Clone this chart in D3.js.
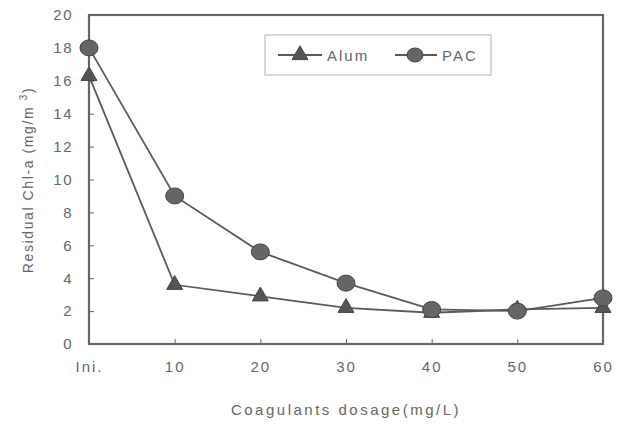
<!DOCTYPE html>
<html>
<head>
<meta charset="utf-8">
<script src="https://cdn.jsdelivr.net/npm/d3@7"></script>
<style>
  body { margin: 0; background: #fff; }
  text { font-family: "Liberation Sans", Arial, sans-serif; fill: #666; }
</style>
</head>
<body>
<svg id="canvas"></svg>
<script>
var categories = ["Ini.", "10", "20", "30", "40", "50", "60"];
var alum = [16.3, 3.6, 2.9, 2.2, 1.9, 2.1, 2.2];
var pac = [18.0, 9.0, 5.6, 3.7, 2.1, 2.0, 2.8];
var yTicks = [0, 2, 4, 6, 8, 10, 12, 14, 16, 18, 20];

var width = 626, height = 424;
var margin = {top: 15, right: 23, bottom: 80, left: 89};

var svg = d3.select("#canvas").attr("width", width).attr("height", height);

var x = d3.scalePoint().domain(categories).range([margin.left, width - margin.right]).padding(0);
var y = d3.scaleLinear().domain([0, 20]).range([height - margin.bottom, margin.top]);

var frameColor = "#666";
var lineColor = "#5a5a5a";

// frame
svg.append("rect")
  .attr("x", x.range()[0]).attr("y", y(20))
  .attr("width", x.range()[1] - x.range()[0])
  .attr("height", y(0) - y(20))
  .attr("fill", "none").attr("stroke", frameColor).attr("stroke-width", 2.2);

// y axis
var yAxis = d3.axisLeft(y).tickValues(yTicks).tickSize(-5).tickPadding(16);
var gy = svg.append("g").attr("transform", "translate(" + margin.left + ",0)").call(yAxis);
gy.select(".domain").remove();
gy.selectAll(".tick line").attr("stroke", frameColor).attr("stroke-width", 1);
gy.selectAll(".tick text").style("font-size", "15px").style("letter-spacing", "1.5px").attr("fill", "#666");

// x axis
var xAxis = d3.axisBottom(x).tickSize(-5).tickPadding(17);
var gx = svg.append("g").attr("transform", "translate(0," + y(0) + ")").call(xAxis);
gx.select(".domain").remove();
gx.selectAll(".tick line").attr("stroke", frameColor).attr("stroke-width", 1);
gx.selectAll(".tick text").style("font-size", "15px").attr("fill", "#666").style("letter-spacing", "2px");

// axis titles
svg.append("text")
  .attr("x", (x.range()[0] + x.range()[1]) / 2)
  .attr("y", 415)
  .attr("text-anchor", "middle")
  .style("font-size", "15px")
  .style("letter-spacing", "2.5px")
  .text("Coagulants dosage(mg/L)");

var ytitle = svg.append("text")
  .attr("transform", "translate(33," + 180 + ") rotate(-90)")
  .attr("text-anchor", "middle")
  .style("font-size", "14px")
  .style("letter-spacing", "1.6px");
ytitle.append("tspan").text("Residual Chl-a (mg/m ");
ytitle.append("tspan").attr("dy", "-6").style("font-size", "10px").text("3");
ytitle.append("tspan").attr("dy", "6").text(")");

// series
var line = d3.line()
  .x(function(d, i) { return x(categories[i]); })
  .y(function(d) { return y(d); });

svg.append("path").datum(pac).attr("d", line)
  .attr("fill", "none").attr("stroke", lineColor).attr("stroke-width", 1.8);
svg.append("path").datum(alum).attr("d", line)
  .attr("fill", "none").attr("stroke", lineColor).attr("stroke-width", 1.8);

var tri = d3.symbol().type(d3.symbolTriangle).size(110);

svg.selectAll(".alum").data(alum).enter().append("path")
  .attr("class", "alum")
  .attr("d", tri)
  .attr("transform", function(d, i) { return "translate(" + x(categories[i]) + "," + y(d) + ")"; })
  .attr("fill", "#555").attr("stroke", "#444").attr("stroke-width", 1);

svg.selectAll(".pac").data(pac).enter().append("ellipse")
  .attr("class", "pac")
  .attr("cx", function(d, i) { return x(categories[i]); })
  .attr("cy", function(d) { return y(d); })
  .attr("rx", 9).attr("ry", 8)
  .attr("fill", "#666").attr("stroke", "#444").attr("stroke-width", 1);

// legend
var lg = svg.append("g");
lg.append("rect").attr("x", 265).attr("y", 35).attr("width", 226).attr("height", 40)
  .attr("fill", "#fff").attr("stroke", "#ccc").attr("stroke-width", 1.5);
lg.append("line").attr("x1", 278).attr("x2", 322).attr("y1", 55).attr("y2", 55)
  .attr("stroke", lineColor).attr("stroke-width", 1.8);
lg.append("path").attr("d", tri).attr("transform", "translate(300,55)")
  .attr("fill", "#555").attr("stroke", "#444");
lg.append("text").attr("x", 327).attr("y", 61).style("font-size", "15px").style("letter-spacing", "2px").text("Alum");
lg.append("line").attr("x1", 395).attr("x2", 437).attr("y1", 55).attr("y2", 55)
  .attr("stroke", lineColor).attr("stroke-width", 1.8);
lg.append("ellipse").attr("cx", 415).attr("cy", 55).attr("rx", 8).attr("ry", 7)
  .attr("fill", "#666").attr("stroke", "#444");
lg.append("text").attr("x", 442).attr("y", 61).style("font-size", "15px").style("letter-spacing", "2px").text("PAC");
</script>
</body>
</html>
